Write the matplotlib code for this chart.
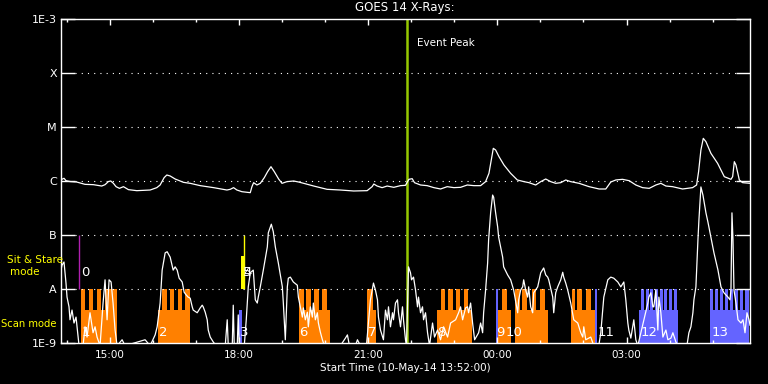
"""GOES 14 X-ray light curves with the observing timeline underneath.

Writes out.png (768x384).
"""

import matplotlib

matplotlib.use("Agg")
import matplotlib.pyplot as plt  # noqa: E402
from matplotlib.ticker import FixedLocator, NullLocator  # noqa: E402

WHITE, YELLOW, PEAK = "white", "#ffff00", "#96c800"
ORANGE, BLUE, PURPLE = "#ff8000", "#6464ff", "#b020b0"

# hours since the start time 10-May-14 13:52:00
long_t = [0.0, 0.016, 0.07, 0.116, 0.209, 0.364, 0.558, 0.752, 0.946, 1.023, 1.101, 1.155,
          1.217, 1.279, 1.357, 1.45, 1.566, 1.76, 2.07, 2.225, 2.302, 2.395, 2.457, 2.535,
          2.651, 2.845, 3.0, 3.233, 3.543, 3.853, 3.93, 4.008, 4.085, 4.202, 4.395, 4.434,
          4.473, 4.55, 4.628, 4.721, 4.798, 4.876, 4.953, 5.054, 5.132, 5.248, 5.403, 5.519,
          5.636, 5.868, 6.178, 6.488, 6.798, 7.109, 7.225, 7.264, 7.341, 7.457, 7.574, 7.729,
          7.884, 8.0, 8.078, 8.155, 8.209, 8.349, 8.504, 8.659, 8.814, 8.969, 9.124, 9.279,
          9.434, 9.589, 9.744, 9.86, 9.938, 9.992, 10.039, 10.093, 10.171, 10.287, 10.442,
          10.597, 10.752, 10.868, 11.023, 11.14, 11.256, 11.372, 11.488, 11.605, 11.721,
          11.837, 12.031, 12.264, 12.496, 12.651, 12.767, 12.884, 13.039, 13.194, 13.349,
          13.504, 13.659, 13.814, 13.93, 14.047, 14.202, 14.434, 14.667, 14.76, 14.806,
          14.86, 14.915, 14.977, 15.093, 15.248, 15.403, 15.558, 15.597, 15.636, 15.674,
          15.752, 15.829, 16.0]
long_log = [-6.02, -5.97, -5.95, -5.994, -6.01, -6.019, -6.062, -6.068, -6.093, -6.068, -6.01,
            -6.0, -6.043, -6.105, -6.136, -6.105, -6.16, -6.179, -6.167, -6.123, -6.074,
            -5.938, -5.889, -5.907, -5.963, -6.025, -6.043, -6.086, -6.123, -6.167, -6.154,
            -6.123, -6.167, -6.198, -6.216, -6.105, -6.031, -6.074, -6.043, -5.938, -5.827,
            -5.735, -5.827, -5.963, -6.043, -6.012, -6.0, -6.019, -6.043, -6.093, -6.154,
            -6.167, -6.185, -6.179, -6.105, -6.056, -6.093, -6.123, -6.093, -6.117, -6.086,
            -6.08, -5.969, -5.957, -6.031, -6.074, -6.086, -6.123, -6.148, -6.105, -6.123,
            -6.117, -6.074, -6.086, -6.086, -6.012, -5.858, -5.611, -5.395, -5.426, -5.549,
            -5.704, -5.858, -5.981, -6.012, -6.031, -6.074, -6.012, -5.963, -6.012, -6.043,
            -6.031, -5.981, -6.012, -6.043, -6.105, -6.148, -6.148, -6.019, -5.981, -5.969,
            -5.994, -6.074, -6.123, -6.136, -6.074, -6.043, -6.093, -6.105, -6.148, -6.123,
            -6.074, -5.827, -5.426, -5.21, -5.272, -5.488, -5.673, -5.92, -5.969, -5.92,
            -5.642, -5.704, -5.981, -6.031, -6.043]

short_t = [0.0, 0.023, 0.07, 0.116, 0.14, 0.186, 0.209, 0.256, 0.302, 0.349, 0.372, 0.419,
           0.512, 0.558, 0.605, 0.674, 0.744, 0.791, 0.837, 0.907, 0.977, 1.023, 1.07, 1.116,
           1.163, 1.209, 1.256, 1.302, 1.419, 1.488, 1.953, 2.07, 2.186, 2.233, 2.302, 2.349,
           2.419, 2.465, 2.535, 2.605, 2.651, 2.698, 2.744, 2.814, 2.86, 2.907, 2.953, 3.0,
           3.047, 3.07, 3.163, 3.233, 3.279, 3.302, 3.349, 3.395, 3.419, 3.465, 3.535, 3.605,
           3.814, 3.86, 3.884, 3.977, 4.0, 4.023, 4.093, 4.116, 4.14, 4.256, 4.302, 4.349,
           4.395, 4.465, 4.512, 4.558, 4.581, 4.628, 4.698, 4.791, 4.814, 4.884, 4.93, 4.977,
           5.047, 5.14, 5.163, 5.209, 5.256, 5.279, 5.326, 5.395, 5.488, 5.512, 5.558, 5.605,
           5.628, 5.674, 5.721, 5.744, 5.791, 5.837, 5.86, 5.907, 5.953, 5.977, 6.023, 6.07,
           6.116, 6.488, 6.605, 6.651, 6.698, 6.837, 6.884, 6.953, 7.093, 7.186, 7.256, 7.302,
           7.349, 7.372, 7.419, 7.488, 7.535, 7.581, 7.605, 7.651, 7.698, 7.721, 7.767, 7.814,
           7.837, 7.884, 7.93, 7.953, 8.0, 8.023, 8.07, 8.116, 8.14, 8.186, 8.233, 8.279,
           8.302, 8.349, 8.395, 8.419, 8.465, 8.512, 8.558, 8.628, 8.674, 8.744, 8.814, 8.884,
           8.977, 9.047, 9.163, 9.233, 9.279, 9.326, 9.395, 9.442, 9.465, 9.512, 9.558, 9.605,
           9.698, 9.744, 9.791, 9.814, 9.86, 9.907, 9.93, 9.977, 10.023, 10.047, 10.093,
           10.14, 10.163, 10.209, 10.256, 10.279, 10.372, 10.442, 10.512, 10.605, 10.628,
           10.674, 10.721, 10.744, 10.791, 10.837, 10.86, 10.907, 10.953, 10.977, 11.07,
           11.14, 11.209, 11.256, 11.302, 11.326, 11.419, 11.442, 11.488, 11.535, 11.605,
           11.651, 11.674, 11.721, 11.767, 11.837, 11.907, 12.0, 12.07, 12.116, 12.14, 12.186,
           12.302, 12.372, 12.488, 12.535, 12.581, 12.605, 12.698, 12.767, 12.837, 12.93,
           13.0, 13.07, 13.116, 13.163, 13.186, 13.233, 13.302, 13.349, 13.395, 13.465,
           13.535, 13.628, 13.651, 13.698, 13.744, 13.767, 13.814, 13.86, 13.884, 13.93,
           13.977, 14.047, 14.093, 14.163, 14.209, 14.279, 14.326, 14.535, 14.581, 14.628,
           14.674, 14.698, 14.744, 14.791, 14.814, 14.86, 14.907, 14.977, 15.023, 15.093,
           15.163, 15.256, 15.326, 15.395, 15.488, 15.535, 15.558, 15.581, 15.605, 15.628,
           15.674, 15.721, 15.791, 15.837, 15.884, 15.93, 15.977, 16.0]
short_log = [-7.65, -7.56, -7.5, -7.89, -8.15, -8.33, -8.57, -8.39, -8.63, -8.52, -8.7, -9.05,
             -9.05, -8.7, -8.89, -8.44, -8.81, -8.7, -8.89, -9.05, -8.26, -7.83, -8.57, -7.83,
             -7.87, -8.26, -8.76, -9.05, -8.94, -9.05, -8.94, -9.05, -8.85, -8.7, -8.26, -7.65,
             -7.33, -7.31, -7.41, -7.65, -7.59, -7.65, -7.8, -7.87, -8.06, -8.11, -8.15, -8.17,
             -8.33, -8.39, -8.44, -8.35, -8.3, -8.33, -8.43, -8.57, -8.76, -8.89, -8.98, -9.05,
             -9.05, -8.57, -9.05, -9.05, -8.3, -9.05, -9.05, -8.48, -9.05, -9.05, -8.57, -7.96,
             -7.7, -7.65, -8.2, -8.26, -8.15, -7.96, -7.65, -7.22, -6.96, -6.8, -6.94, -7.22,
             -7.52, -7.96, -8.26, -8.94, -7.96, -7.8, -7.78, -7.87, -7.93, -8.15, -8.33, -8.52,
             -8.35, -8.57, -8.43, -8.7, -8.33, -8.52, -8.26, -8.57, -8.44, -8.63, -8.8, -8.94,
             -9.05, -9.05, -8.91, -8.85, -9.05, -9.05, -8.94, -9.05, -9.05, -8.2, -7.89, -8.02,
             -8.2, -8.52, -8.76, -8.94, -8.39, -8.57, -8.33, -8.7, -8.44, -8.57, -8.26, -8.2,
             -8.44, -8.7, -8.33, -8.57, -8.94, -9.05, -7.59, -7.7, -7.83, -7.78, -8.02, -8.33,
             -8.15, -8.44, -8.33, -8.57, -8.44, -8.81, -9.05, -8.63, -8.89, -8.76, -8.94, -8.7,
             -8.89, -8.63, -8.57, -8.44, -8.33, -8.57, -8.35, -8.33, -8.44, -8.26, -8.63, -8.94,
             -8.81, -8.63, -8.81, -8.44, -8.02, -7.52, -7.09, -6.59, -6.26, -6.3, -6.59,
             -6.85, -7.04, -7.22, -7.41, -7.59, -7.74, -7.83, -8.02, -8.44, -8.2,
             -8.02, -7.96, -7.83, -8.02, -8.15, -7.96, -8.33, -8.44, -8.07, -7.96,
             -7.7, -7.61, -7.74, -7.78, -7.83, -8.15, -8.44, -8.07, -7.96, -7.83,
             -7.69, -7.78, -7.89, -8.02, -8.26, -8.57, -8.63, -8.81, -8.89, -8.7, -8.94,
             -8.89, -9.05, -9.05, -8.81, -8.39, -8.15, -7.83, -7.78, -7.8, -7.87,
             -7.96, -7.87, -8.2, -8.63, -8.76, -8.91, -8.57, -8.94, -9.05, -8.81,
             -8.57, -8.26, -8.15, -8.07, -8.33, -8.33, -8.02, -8.76, -8.15, -8.44,
             -8.89, -8.76, -8.94, -8.91, -8.81, -8.98, -9.05, -9.05, -8.81, -8.7,
             -8.44, -8.2, -7.96, -7.09, -6.72, -6.11, -6.26, -6.59, -6.76, -7.04,
             -7.33, -7.65, -7.96, -8.07, -8.15, -8.2, -8.02, -6.59, -7.09, -8.02,
             -8.26, -8.57, -8.63, -8.57, -8.81, -8.44, -8.57, -8.67]

# observing timeline, (start, end) in hours
orange_low = [(0.465, 1.295), (2.256, 3.0), (5.535, 6.256), (7.116, 7.326), (8.721, 9.535),
              (10.156, 10.458), (10.535, 11.319), (11.853, 12.395)]
orange_high = [(0.465, 0.558), (0.651, 0.744), (0.837, 0.93), (1.023, 1.295),
               (2.342, 2.458), (2.535, 2.635), (2.714, 2.821), (2.884, 3.0),
               (5.535, 5.651), (5.698, 5.814), (5.884, 6.0), (6.07, 6.186),
               (7.116, 7.256),
               (8.814, 8.907), (8.977, 9.093), (9.163, 9.256), (9.349, 9.442),
               (10.249, 10.365), (10.535, 10.651), (10.714, 10.83), (10.93, 11.04),
               (11.123, 11.233),
               (11.86, 11.93), (11.993, 12.109), (12.186, 12.302)]
blue_low = [(4.14, 4.21), (13.412, 14.319), (15.07, 15.97)]
blue_high = [(10.093, 10.156), (12.395, 12.458),
             (13.465, 13.528), (13.581, 13.644), (13.682, 13.737), (13.791, 13.853),
             (13.907, 13.97), (14.007, 14.07), (14.123, 14.186), (14.225, 14.302),
             (15.07, 15.133), (15.186, 15.249), (15.302, 15.365), (15.419, 15.481),
             (15.535, 15.598), (15.651, 15.714), (15.767, 15.83), (15.884, 15.97)]
sit_lines = [(0.426, PURPLE), (4.24, YELLOW)]
sit_low = [(4.186, 4.263)]

# block numbers: text, hour, band
block_labels = [("0", 0.465, "sit"), ("1", 0.47, "scan"), ("2", 2.28, "scan"),
                ("3", 4.16, "scan"), ("4", 4.23, "sit"), ("5", 4.23, "sit"),
                ("6", 5.53, "scan"), ("7", 7.12, "scan"), ("8", 8.74, "scan"),
                ("9", 10.1, "scan"), ("10", 10.33, "scan"), ("11", 12.45, "scan"),
                ("12", 13.45, "scan"), ("13", 15.1, "scan")]

event_peak = 8.04
decades = [1e-9, 1e-8, 1e-7, 1e-6, 1e-5, 1e-4, 1e-3]
decade_names = ["1E-9", "A", "B", "C", "M", "X", "1E-3"]
major_hours = [1.133, 4.133, 7.133, 10.133, 13.133]
major_names = ["15:00", "18:00", "21:00", "00:00", "03:00"]
minor_hours = [0.133 + k for k in range(16)]

SCAN_BASE, SCAN_LOW, SCAN_HIGH = 1e-9, 10 ** -8.39, 1e-8
SIT_BASE, SIT_LOW, SIT_HIGH = 1e-8, 10 ** -7.39, 1e-7


def bars(ax, spans, base, top, color):
    for a, b in spans:
        ax.bar(a, top - base, width=b - a, bottom=base, align="edge", color=color,
               linewidth=0, zorder=1)


def main():
    fig = plt.figure(figsize=(7.68, 3.84), dpi=100, facecolor="black")
    ax = fig.add_axes([61 / 768, 41 / 384, 689 / 768, 324 / 384], facecolor="black")
    ax.set_yscale("log")
    ax.set_xlim(0, 16)
    ax.set_ylim(1e-9, 1e-3)

    bars(ax, orange_low, SCAN_BASE, SCAN_LOW, ORANGE)
    bars(ax, orange_high, SCAN_BASE, SCAN_HIGH, ORANGE)
    bars(ax, blue_low, SCAN_BASE, SCAN_LOW, BLUE)
    bars(ax, blue_high, SCAN_BASE, SCAN_HIGH, BLUE)
    bars(ax, sit_low, SIT_BASE, SIT_LOW, YELLOW)
    for h, c in sit_lines:
        ax.vlines(h, SIT_BASE, SIT_HIGH, color=c, lw=1.0, zorder=1)

    for v in decades[1:-1]:
        ax.axhline(v, xmin=0.0203, xmax=0.98, color=WHITE, lw=0.8,
                   linestyle=(0, (1, 4.6)), zorder=2)

    ax.axvline(event_peak, color=PEAK, lw=1.8, zorder=3)
    ax.text(event_peak + 0.23, 10 ** -3.45, "Event Peak", color=WHITE, fontsize=7.5,
            ha="left", va="center")

    ax.plot(long_t, [10 ** v for v in long_log], color=WHITE, lw=0.9, zorder=4)
    ax.plot(short_t, [10 ** v for v in short_log], color=WHITE, lw=0.9, zorder=4)

    for text, h, band in block_labels:
        y = 10 ** -8.8 if band == "scan" else 10 ** -7.69
        ax.text(h, y, text, color=WHITE, fontsize=9.5, ha="left", va="center", zorder=5)

    for s in ax.spines.values():
        s.set_color(WHITE)
        s.set_linewidth(1.0)
        s.set_zorder(6)

    ax.yaxis.set_major_locator(FixedLocator(decades))
    ax.yaxis.set_minor_locator(NullLocator())
    ax.set_yticklabels(decade_names)
    ax.tick_params(axis="y", direction="in", length=10, width=1, left=True, right=True,
                   colors=WHITE, labelsize=8, pad=3)

    ax.xaxis.set_major_locator(FixedLocator(major_hours))
    ax.xaxis.set_minor_locator(FixedLocator(minor_hours))
    ax.set_xticklabels(major_names)
    ax.tick_params(axis="x", which="major", direction="in", length=4.5, width=1,
                   top=True, bottom=True, colors=WHITE, labelsize=7.5, pad=5)
    ax.tick_params(axis="x", which="minor", direction="in", length=2.2, width=1,
                   top=True, bottom=True, colors=WHITE)
    ax.set_xlabel("Start Time (10-May-14 13:52:00)", color=WHITE, fontsize=7.5,
                  labelpad=2)

    fig.text(405 / 768, 1 - 8 / 384, "GOES 14 X-Rays:", color=WHITE, fontsize=8.5,
             ha="center", va="center")
    fig.text(35 / 768, 1 - 260 / 384, "Sit & Stare", color=YELLOW, fontsize=7.5,
             ha="center", va="center")
    fig.text(25 / 768, 1 - 272 / 384, "mode", color=YELLOW, fontsize=7.5,
             ha="center", va="center")
    fig.text(29 / 768, 1 - 324 / 384, "Scan mode", color=YELLOW, fontsize=7.2,
             ha="center", va="center")

    fig.savefig("out.png", dpi=100, facecolor="black")


if __name__ == "__main__":
    main()
